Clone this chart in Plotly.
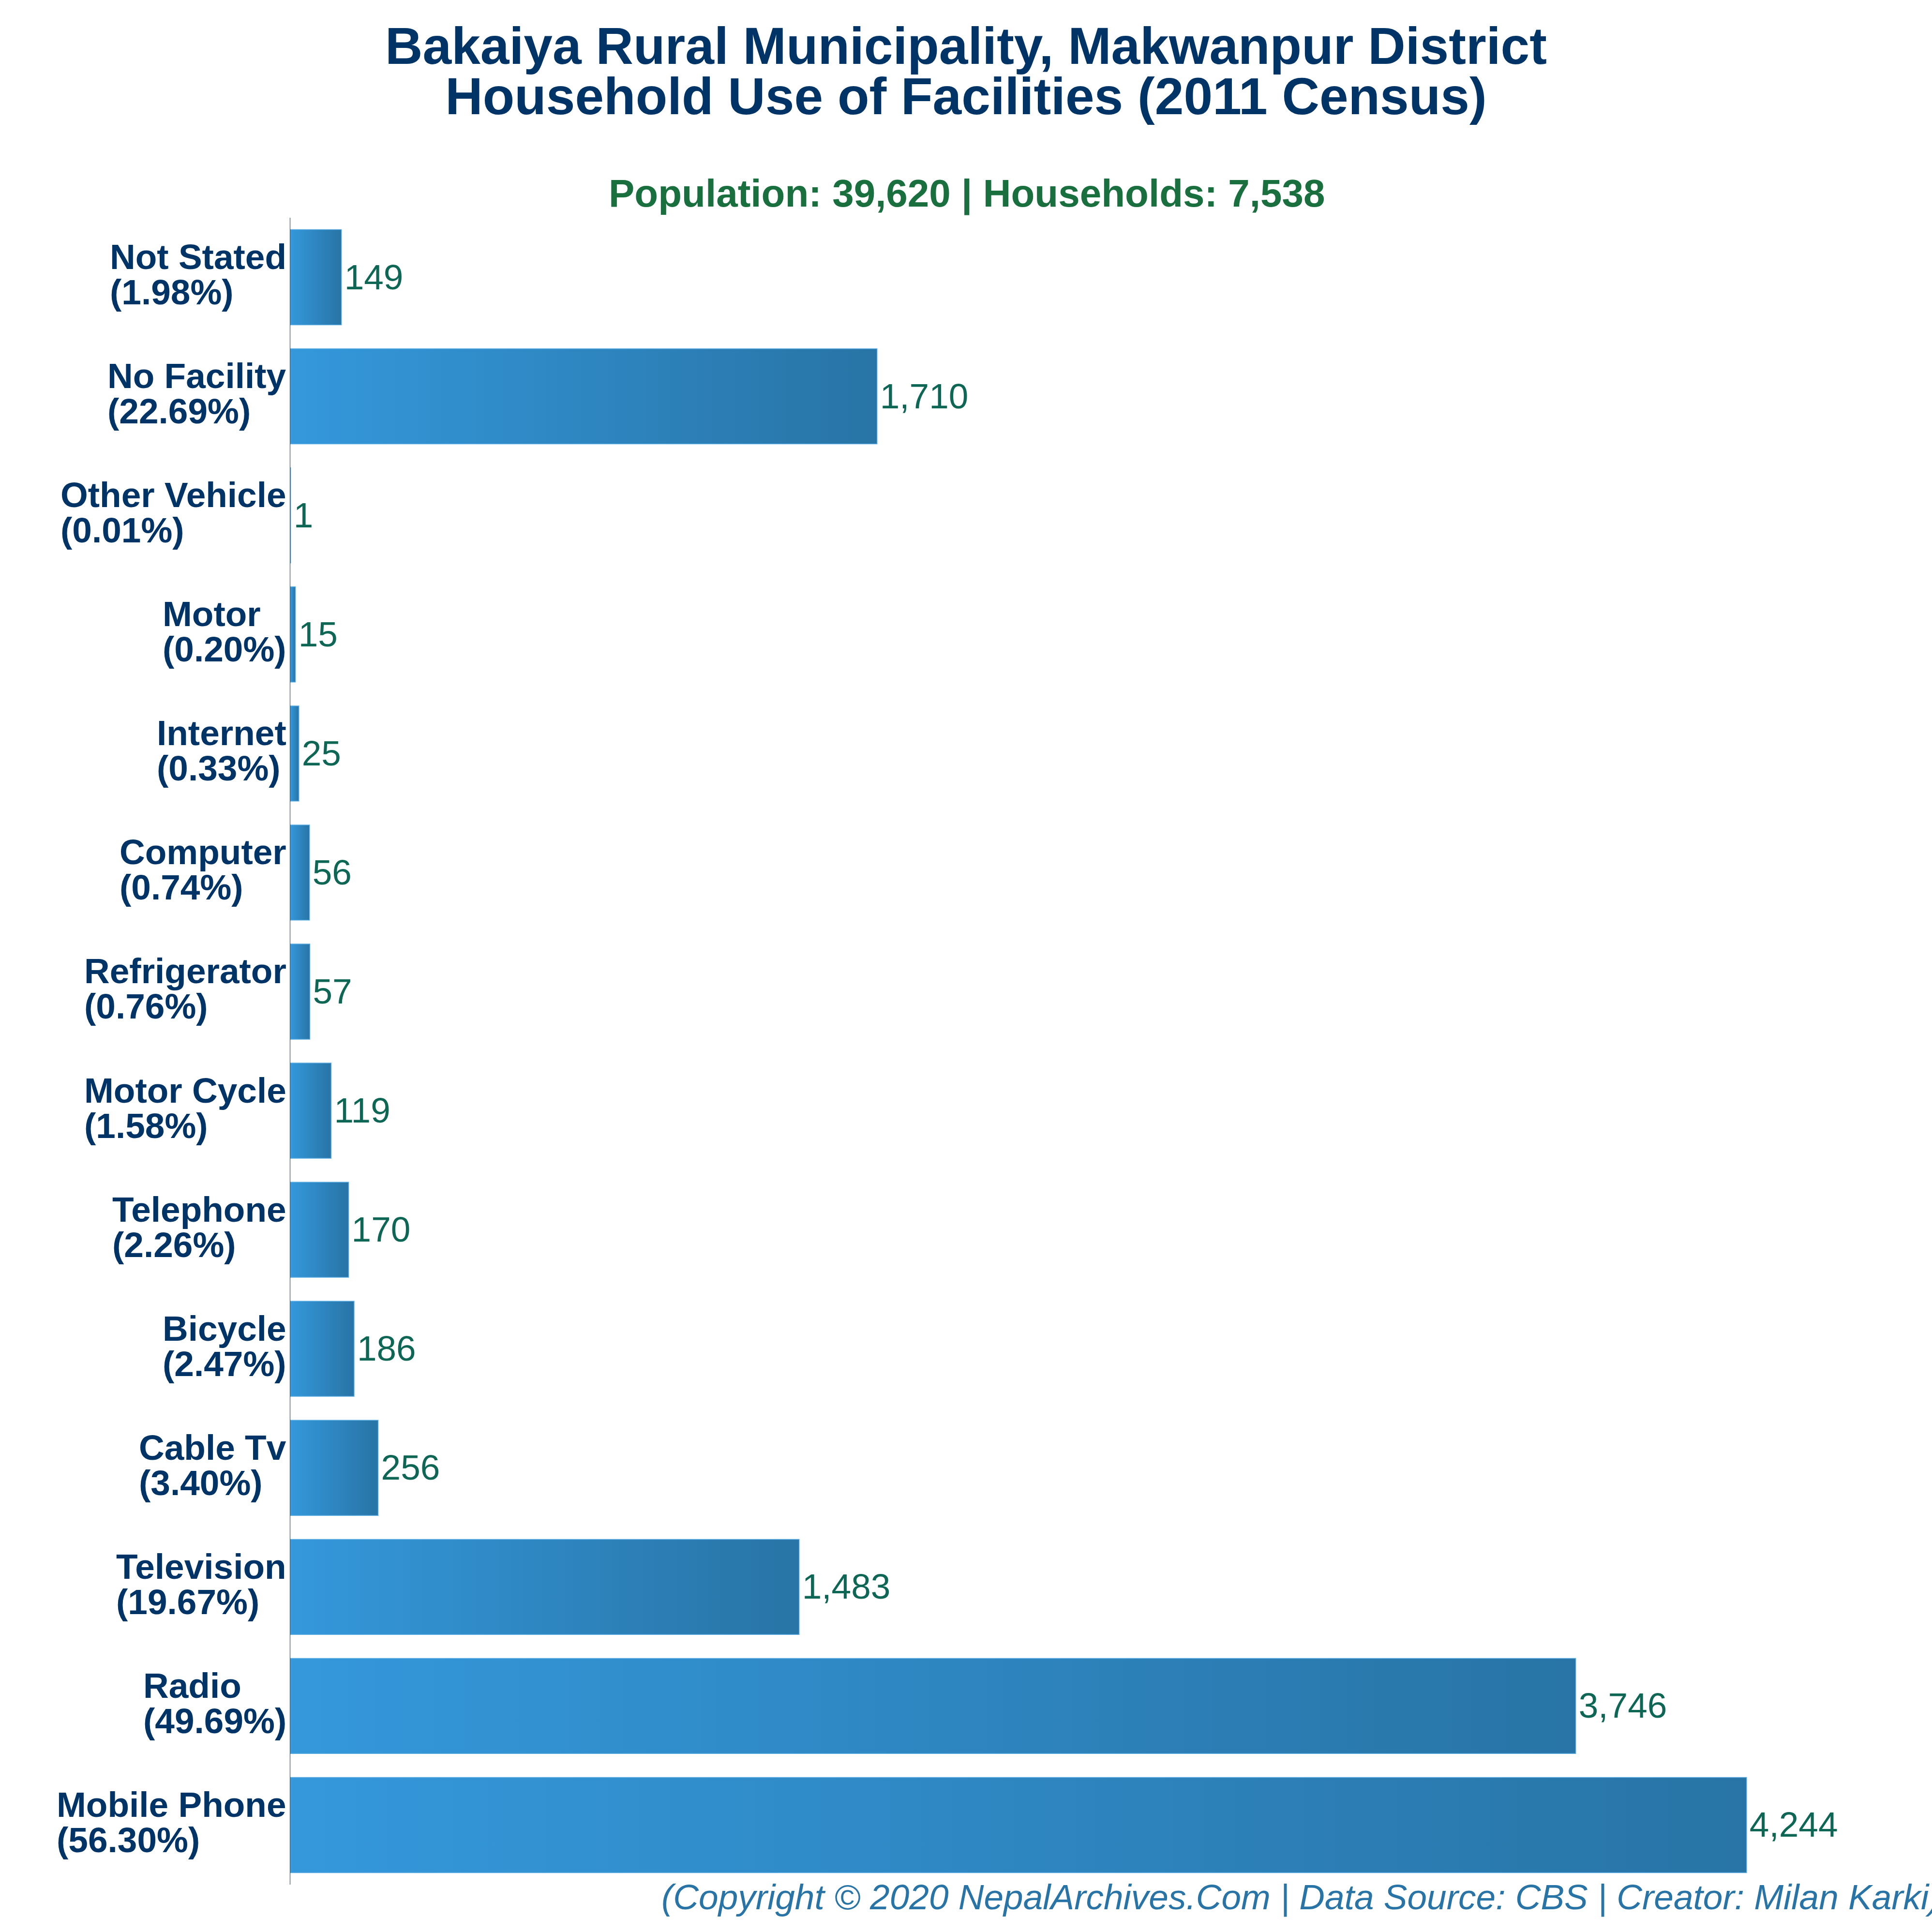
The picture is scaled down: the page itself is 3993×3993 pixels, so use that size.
import plotly.graph_objects as go

categories = ["Mobile Phone", "Radio", "Television", "Cable Tv", "Bicycle", "Telephone", "Motor Cycle",
              "Refrigerator", "Computer", "Internet", "Motor", "Other Vehicle", "No Facility", "Not Stated"]
values = [4244, 3746, 1483, 256, 186, 170, 119, 57, 56, 25, 15, 1, 1710, 149]
percents = ["56.30", "49.69", "19.67", "3.40", "2.47", "2.26", "1.58", "0.76", "0.74", "0.33", "0.20", "0.01", "22.69", "1.98"]

title_lines = ["Bakaiya Rural Municipality, Makwanpur District", "Household Use of Facilities (2011 Census)"]
subtitle = "Population: 39,620 | Households: 7,538"
credit = "(Copyright © 2020 NepalArchives.Com | Data Source: CBS | Creator: Milan Karki)"

W = H = 3993
L, T, B = 600, 450, 98
FONT = "Liberation Sans, Arial, sans-serif"
NAVY = "#003366"


def px(x):
    return (x - L) / (W - L)


def py(y):
    return (H - B - y) / (H - T - B)


fig = go.Figure(go.Bar(
    y=categories, x=values, orientation="h",
    marker=dict(color="#2e86c1", line=dict(color="#5dade2", width=1.5)),
    text=[f"{v:,}" for v in values], textposition="outside", cliponaxis=False,
    textfont=dict(family=FONT, size=73, color="#0e6655"),
    hoverinfo="skip",
))

annotations = [
    dict(text="<b>" + "<br>".join(title_lines) + "</b>", xref="paper", yref="paper", x=px(1996), xanchor="center",
         y=py(164), yanchor="middle", showarrow=False, align="center",
         font=dict(family=FONT, size=107.3, color=NAVY)),
    dict(text=f"<b>{subtitle}</b>", xref="paper", yref="paper", x=px(1998), xanchor="center",
         y=py(400), yanchor="middle", showarrow=False,
         font=dict(family=FONT, size=80, color="#196f3d")),
    dict(text=f"<i>{credit}</i>", xref="paper", yref="paper", x=px(1365), xanchor="left",
         y=py(3921), yanchor="middle", showarrow=False,
         font=dict(family=FONT, size=73, color="#2874a6")),
]
for c, p in zip(categories, percents):
    annotations.append(dict(text=f"<b>{c}<br>({p}%)</b>", xref="x", yref="y", x=0, y=c, xanchor="right", xshift=-6,
                            yshift=-5, yanchor="middle", showarrow=False, align="left",
                            font=dict(family=FONT, size=73, color=NAVY)))

fig.update_layout(
    width=W, height=H, paper_bgcolor="white", plot_bgcolor="white",
    margin=dict(l=L, r=0, t=T, b=B), bargap=0.2, showlegend=False,
    annotations=annotations,
    xaxis=dict(range=[0, (W - L) / 0.7092], visible=False, fixedrange=True),
    yaxis=dict(categoryorder="array", categoryarray=categories, showticklabels=False, ticks="",
               showgrid=False, zeroline=False, showline=True, linecolor="#1f3a5f", linewidth=1),
)

post = """
document.body.style.margin = '0';
var gd = document.getElementById('{plot_id}');
var svg = gd.querySelector('.main-svg');
var ns = 'http://www.w3.org/2000/svg';
var defs = svg.querySelector('defs') || svg.insertBefore(document.createElementNS(ns, 'defs'), svg.firstChild);
var g = document.createElementNS(ns, 'linearGradient');
g.setAttribute('id', 'barGrad'); g.setAttribute('x1', '0'); g.setAttribute('x2', '1'); g.setAttribute('y1', '0'); g.setAttribute('y2', '0');
[['0', '#3498db'], ['1', '#2874a6']].forEach(function (s) {
  var st = document.createElementNS(ns, 'stop');
  st.setAttribute('offset', s[0]); st.setAttribute('stop-color', s[1]); g.appendChild(st);
});
defs.appendChild(g);
gd.querySelectorAll('.bars .point path').forEach(function (p) { p.style.fill = 'url(#barGrad)'; });
gd.querySelectorAll('.annotation-text tspan.line').forEach(function (t) {
  if (parseFloat(t.getAttribute('dy')) > 0) {
    var big = parseFloat(t.closest('text').style.fontSize) > 100;
    t.setAttribute('dy', big ? '0.965em' : '1em');
  }
});
gd.querySelectorAll('.bars .bartext').forEach(function (t) {
  t.setAttribute('transform', 'translate(3,-1) ' + (t.getAttribute('transform') || ''));
});
"""
fig.write_html("out.html", post_script=post, config=dict(displayModeBar=False))
